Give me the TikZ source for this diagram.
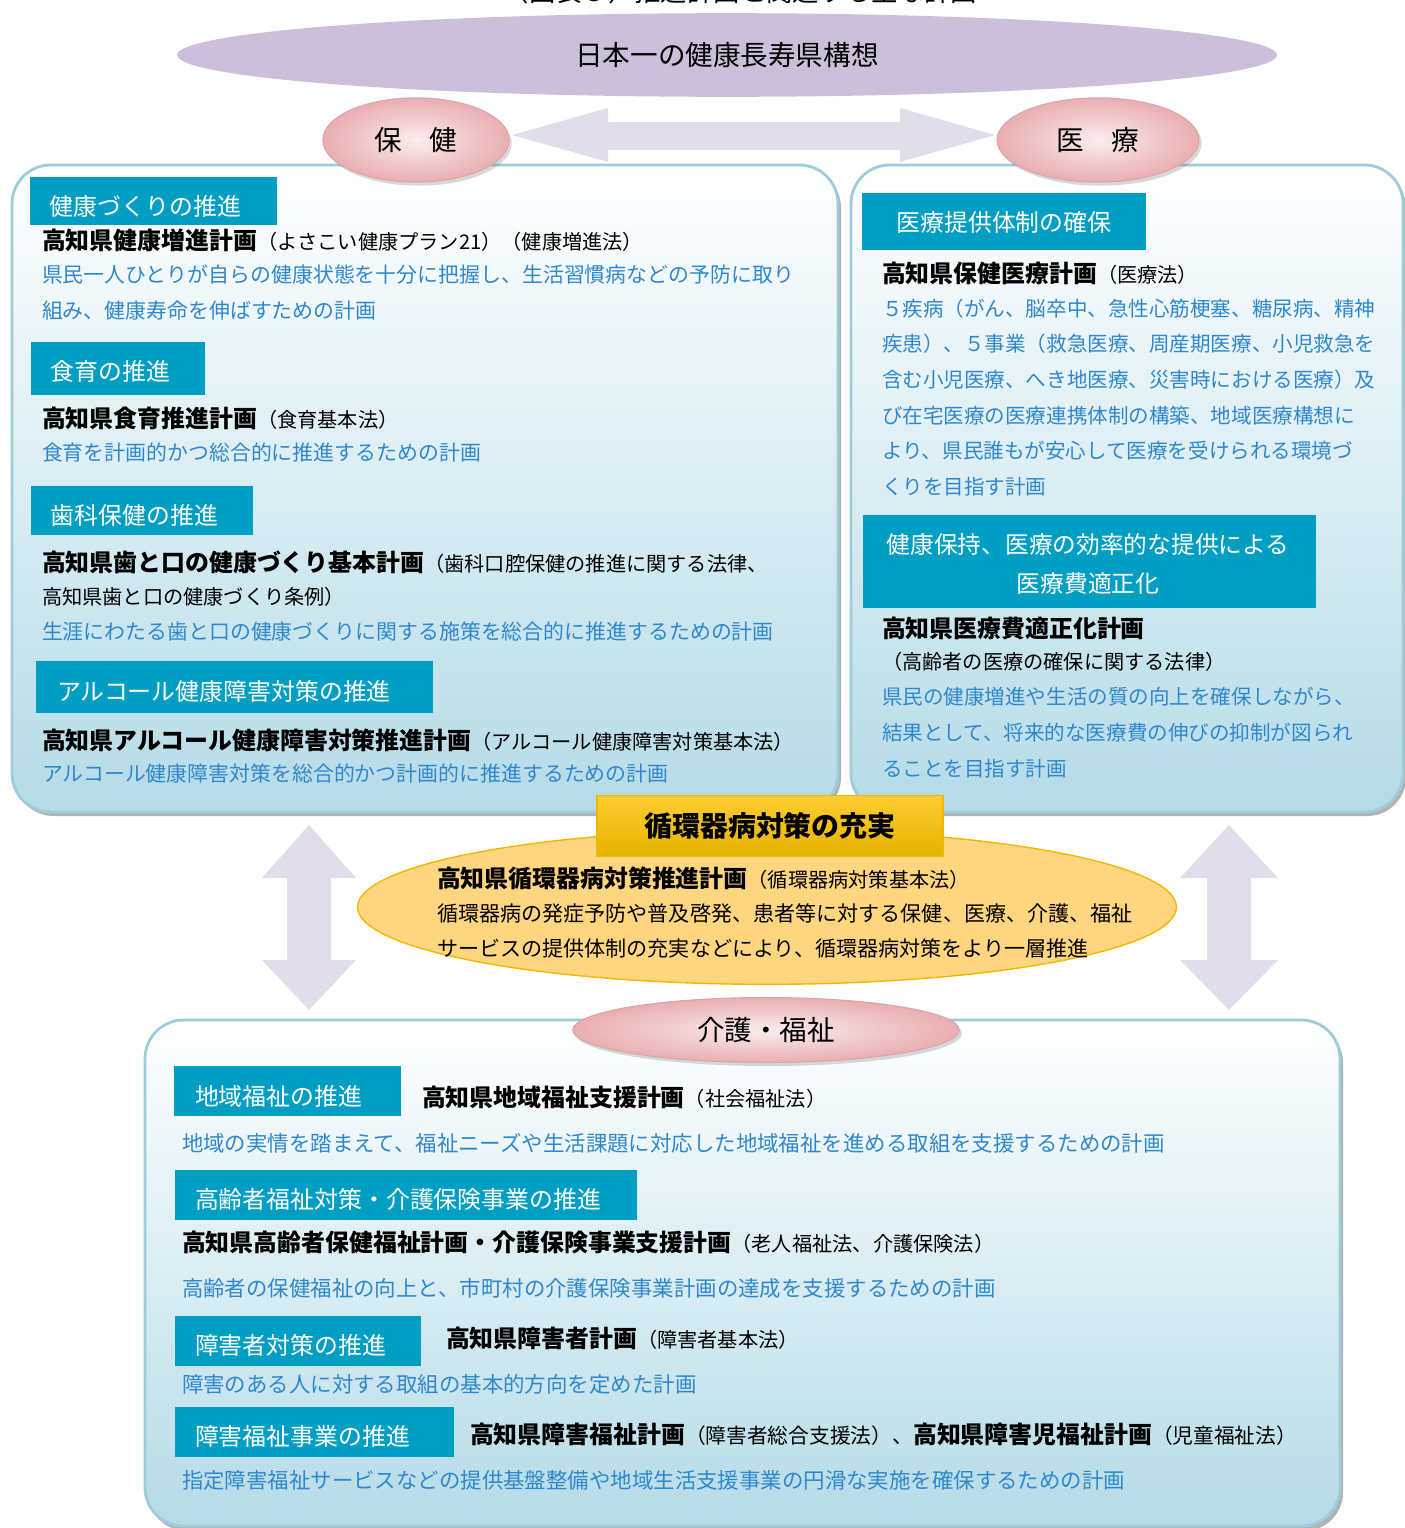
\documentclass[tikz,border=0pt]{standalone}
\usepackage{fontspec}
\setmainfont{Noto Sans CJK JP}
\usetikzlibrary{shapes.geometric,shadows}
\definecolor{lavend}{HTML}{CCBFD9}
\definecolor{arrowlav}{HTML}{E2DDEA}
\definecolor{hdrblue}{HTML}{009EC2}
\definecolor{txtblue}{HTML}{2F88CF}
\definecolor{panelblue}{HTML}{B5DBE7}
\definecolor{panelline}{HTML}{9DCCDA}
\definecolor{pinkin}{HTML}{FBEDED}
\definecolor{pinkout}{HTML}{E9AEB1}
\definecolor{orangefill}{HTML}{FFD680}
\definecolor{orangeline}{HTML}{F2B700}
\definecolor{goldtop}{HTML}{FFCC33}
\definecolor{goldbot}{HTML}{E5B300}
\newcommand\pname[1]{{\fontsize{13.6}{16}\selectfont\bfseries #1}}
\tikzset{
	every node/.style={inner sep=0pt, outer sep=0pt},
	hdrtext/.style={text=white, anchor=west, font=\fontsize{13.6}{16}\selectfont},
	plan/.style={anchor=west, font=\fontsize{11.5}{14}\selectfont},
	bluetext/.style={anchor=north west, text=txtblue, align=left, font=\fontsize{11.9}{20.4}\selectfont},
	bluewide/.style={bluetext, font=\fontsize{12.2}{20.4}\selectfont},
	bubble/.style={ellipse, draw=pinkout!85!gray, line width=0.6pt, inner color=pinkin, outer color=pinkout,
		drop shadow={opacity=0.3, shadow xshift=1.5pt, shadow yshift=-2pt}, font=\fontsize{15.7}{18}\selectfont},
	panel/.style={draw=panelline, line width=1.6pt, top color=white, bottom color=panelblue, rounded corners=22pt},
	panelshadow/.style={fill=black!30, rounded corners=22pt},
}

\begin{document}
\begin{tikzpicture}[x=0.02cm, y=-0.02cm]
			%%%%% START %%%%%
			\useasboundingbox (0,0) rectangle (1405,1528);
			\fill[white] (0,0) rectangle (1405,1528);
			
			\node[font=\fontsize{15}{18}\selectfont] (ttl) at (740,-9) {（図表３）推進計画と関連する主な計画};
			
			\node[ellipse, fill=lavend, minimum width=626pt, minimum height=47.6pt, font=\fontsize{15.7}{18}\selectfont] (vision) at (727,55) {日本一の健康長寿県構想};
			
			% two-way arrow between the bubbles
			\fill[arrowlav] (512,135) -- (608,108) -- (608,122) -- (900,122) -- (900,108) -- (995,135)
				-- (900,162) -- (900,150) -- (608,150) -- (608,162) -- cycle;
			
			% panels
			\fill[panelshadow] (15,169) rectangle (841,816);
			\path[panel] (12,165) rectangle (838,812);
			\fill[panelshadow] (854,169) rectangle (1406,816);
			\path[panel] (851,165) rectangle (1403,812);
			
			\node[bubble, minimum width=106pt, minimum height=48pt] (hoken) at (416,140) {保　健};
			\node[bubble, minimum width=115pt, minimum height=48pt] (iryo) at (1098,140) {医　療};
			
			% left panel
			\fill[hdrblue] (30,177) rectangle (277,225);
			\node[hdrtext] (h1) at (50,206) {健康づくりの推進};
			\node[plan] (p1) at (42,240) {\pname{高知県健康増進計画}（よさこい健康プラン21）（健康増進法）};
			\node[bluetext] (d1) at (42,264.5) {県民一人ひとりが自らの健康状態を十分に把握し、生活習慣病などの予防に取り\\組み、健康寿命を伸ばすための計画};
			
			\fill[hdrblue] (31,342) rectangle (205,395);
			\node[hdrtext] (h2) at (51,371) {食育の推進};
			\node[plan] (p2) at (42,418) {\pname{高知県食育推進計画}（食育基本法）};
			\node[bluetext] (d2) at (42,442.5) {食育を計画的かつ総合的に推進するための計画};
			
			\fill[hdrblue] (31,486) rectangle (253,535);
			\node[hdrtext] (h3) at (51,515) {歯科保健の推進};
			\node[plan] (p3) at (42,562) {\pname{高知県歯と口の健康づくり基本計画}（歯科口腔保健の推進に関する法律、};
			\node[plan] (p3b) at (42,597) {高知県歯と口の健康づくり条例）};
			\node[bluetext] (d3) at (42,621.5) {生涯にわたる歯と口の健康づくりに関する施策を総合的に推進するための計画};
			
			\fill[hdrblue] (36,661) rectangle (433,713);
			\node[hdrtext] (h4) at (57,691) {アルコール健康障害対策の推進};
			\node[plan] (p4) at (42,740) {\pname{高知県アルコール健康障害対策推進計画}（アルコール健康障害対策基本法）};
			\node[bluetext] (d4) at (42,763.5) {アルコール健康障害対策を総合的かつ計画的に推進するための計画};
			
			% right panel
			\fill[hdrblue] (862,193) rectangle (1146,250);
			\node[hdrtext, anchor=center] (h5) at (1004,222) {医療提供体制の確保};
			\node[plan] (p5) at (882,273) {\pname{高知県保健医療計画}（医療法）};
			\node[bluetext, font=\fontsize{11.7}{20.3}\selectfont] (d5) at (882,298.5) {５疾病（がん、脳卒中、急性心筋梗塞、糖尿病、精神\\疾患）、５事業（救急医療、周産期医療、小児救急を\\含む小児医療、へき地医療、災害時における医療）及\\び在宅医療の医療連携体制の構築、地域医療構想に\\より、県民誰もが安心して医療を受けられる環境づ\\くりを目指す計画};
			
			\fill[hdrblue] (863,515) rectangle (1316,608);
			\node[hdrtext, anchor=center, align=center, font=\fontsize{13.5}{22.7}\selectfont] (h6) at (1088,564) {健康保持、医療の効率的な提供による\\医療費適正化};
			\node[plan] (p6) at (882,628) {\pname{高知県医療費適正化計画}};
			\node[plan] (p6b) at (882,662) {（高齢者の医療の確保に関する法律）};
			\node[bluetext, font=\fontsize{11.7}{20.3}\selectfont] (d6) at (882,687.5) {県民の健康増進や生活の質の向上を確保しながら、\\結果として、将来的な医療費の伸びの抑制が図られ\\ることを目指す計画};
			
			% vertical arrows
			\fill[arrowlav] (309,825) -- (356,878) -- (331,878) -- (331,960) -- (356,960) -- (309,1010)
				-- (262,960) -- (287,960) -- (287,878) -- (262,878) -- cycle;
			\fill[arrowlav] (1229,825) -- (1278,878) -- (1251,878) -- (1251,960) -- (1278,960) -- (1229,1010)
				-- (1180,960) -- (1207,960) -- (1207,878) -- (1180,878) -- cycle;
			
			% centre
			\node[ellipse, fill=orangefill, draw=orangeline, line width=0.8pt, minimum width=466pt, minimum height=88pt] (core) at (767,907) {};
			\node[draw=orangeline, line width=0.8pt, top color=goldtop, bottom color=goldbot, minimum width=197pt, minimum height=35pt,
				font=\fontsize{15.9}{18}\selectfont\bfseries] (goal) at (770,826) {循環器病対策の充実};
			\node[plan] (p7) at (437,878) {\pname{高知県循環器病対策推進計画}（循環器病対策基本法）};
			\node[bluetext, text=black, font=\fontsize{12}{19.8}\selectfont] (d7) at (437,903.5) {循環器病の発症予防や普及啓発、患者等に対する保健、医療、介護、福祉\\サービスの提供体制の充実などにより、循環器病対策をより一層推進};
			
			% bottom panel
			\fill[panelshadow] (148,1024) rectangle (1343,1531);
			\path[panel] (145,1020) rectangle (1340,1526);
			\node[bubble, minimum width=220pt, minimum height=37pt] (kaigo) at (766,1030) {介護・福祉};
			
			\fill[hdrblue] (174,1066) rectangle (401,1116);
			\node[hdrtext] (h7) at (195,1096) {地域福祉の推進};
			\node[plan] (p8) at (422,1097) {\pname{高知県地域福祉支援計画}（社会福祉法）};
			\node[bluewide] (d8) at (182,1133) {地域の実情を踏まえて、福祉ニーズや生活課題に対応した地域福祉を進める取組を支援するための計画};
			
			\fill[hdrblue] (175,1170) rectangle (637,1220);
			\node[hdrtext] (h8) at (195,1199) {高齢者福祉対策・介護保険事業の推進};
			\node[plan] (p9) at (182,1242) {\pname{高知県高齢者保健福祉計画・介護保険事業支援計画}（老人福祉法、介護保険法）};
			\node[bluewide] (d9) at (182,1278) {高齢者の保健福祉の向上と、市町村の介護保険事業計画の達成を支援するための計画};
			
			\fill[hdrblue] (175,1316) rectangle (421,1366);
			\node[hdrtext] (h9) at (195,1345) {障害者対策の推進};
			\node[plan] (p10) at (446,1338) {\pname{高知県障害者計画}（障害者基本法）};
			\node[bluewide] (d10) at (182,1374) {障害のある人に対する取組の基本的方向を定めた計画};
			
			\fill[hdrblue] (175,1407) rectangle (454,1457);
			\node[hdrtext] (h10) at (195,1436) {障害福祉事業の推進};
			\node[plan, font=\fontsize{11.8}{14}\selectfont] (p11) at (470,1434) {\pname{高知県障害福祉計画}（障害者総合支援法）、\pname{高知県障害児福祉計画}（児童福祉法）};
			\node[bluewide] (d11) at (182,1470) {指定障害福祉サービスなどの提供基盤整備や地域生活支援事業の円滑な実施を確保するための計画};
			
			%%%%% END %%%%%
\end{tikzpicture}
\end{document}
